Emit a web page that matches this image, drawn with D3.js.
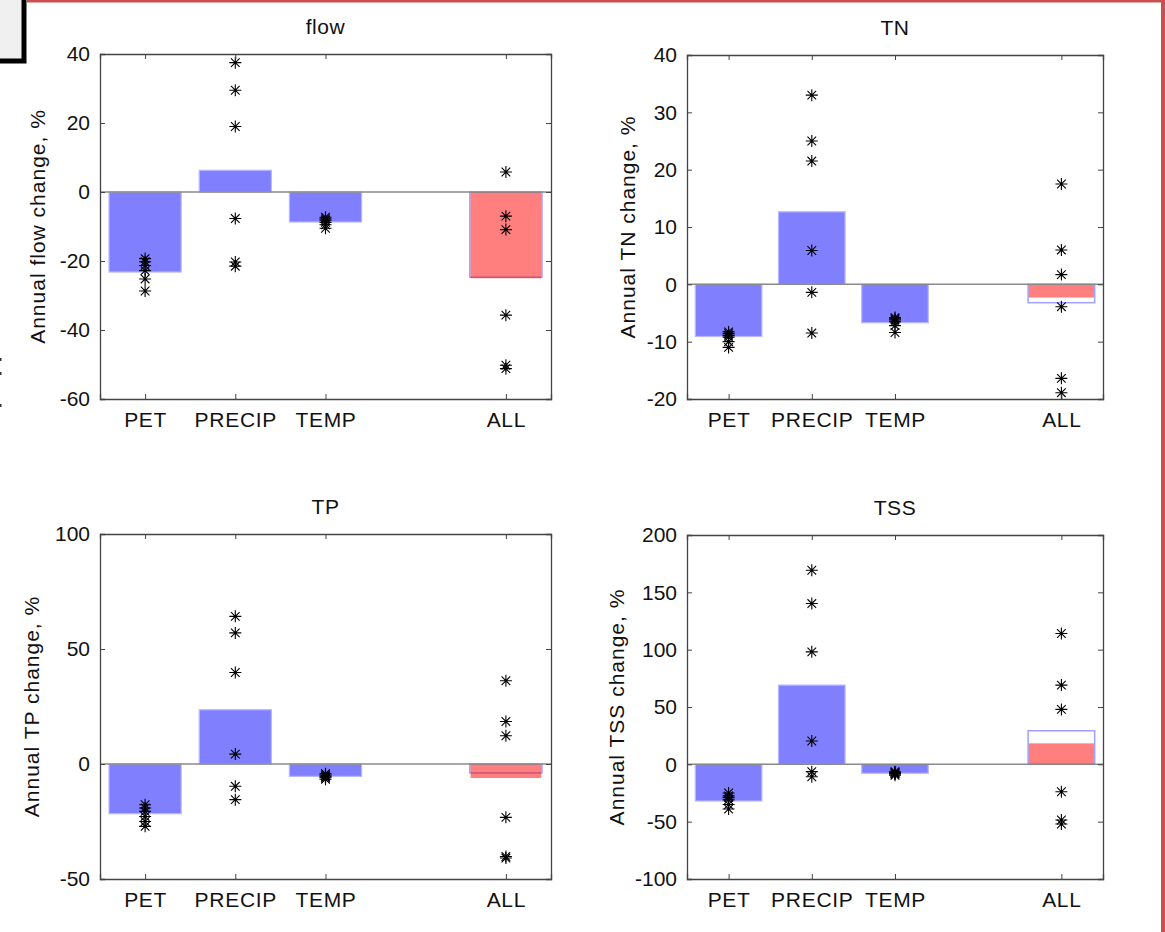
<!DOCTYPE html>
<html lang="en">
<head>
    <meta charset="UTF-8">
    <title>Annual change by driver</title>
    <style>
        body {
            margin: 0;
            padding: 0;
            background: #fff;
        }
        #chart text {
            font-family: "Liberation Sans", Arial, Helvetica, sans-serif;
            fill: #111;
        }
    </style>
</head>
<body>
    <div id="chart"></div>

    <script src="https://d3js.org/d3.v7.min.js"></script>
    <script>
        // categorie (pozicije kao u matlabu: 1,2,3 i 5)
        const categories = ["PET", "PRECIP", "TEMP", "ALL"];
        const catPos = [1, 2, 3, 5];

        const panelNames = ["flow", "TN", "TP", "TSS"];
        const yLabels = ["Annual flow change, %", "Annual TN change, %", "Annual TP change, %", "Annual TSS change, %"];
        const yDomains = [[-60, 40], [-20, 40], [-50, 100], [-100, 200]];
        const yTicks = [
            [-60, -40, -20, 0, 20, 40],
            [-20, -10, 0, 10, 20, 30, 40],
            [-50, 0, 50, 100],
            [-100, -50, 0, 50, 100, 150, 200]
        ];

        // srednje vrijednosti PET, PRECIP, TEMP (plavi stupci)
        const flowBars = [-23.2, 6.3, -8.7];
        const tnBars = [-9.1, 12.65, -6.7];
        const tpBars = [-21.6, 23.6, -5.4];
        const tssBars = [-32.0, 69.1, -7.8];

        // ALL: crveni stupac (srednja vrijednost) i obrub (zbroj pojedinacnih)
        const allMean = [-25.0, -2.3, -6.1, 18.3];
        const allSum = [-24.7, -3.2, -3.9, 29.3];

        // scenariji (zvjezdice), po kategoriji
        const flowStars = [
            [-19.3, -20.2, -21.3, -22.8, -25.2, -28.7],
            [37.5, 29.5, 19.0, -7.7, -20.3, -21.5],
            [-7.3, -7.8, -8.2, -8.8, -9.5, -10.5],
            [5.8, -7.0, -10.9, -35.7, -50.2, -51.2]
        ];
        const tnStars = [
            [-8.3, -8.6, -8.9, -9.2, -10.0, -11.0],
            [33.0, 25.0, 21.5, 5.9, -1.4, -8.5],
            [-5.8, -6.0, -6.2, -6.5, -7.2, -8.4],
            [17.5, 6.0, 1.7, -3.9, -16.4, -18.9]
        ];
        const tpStars = [
            [-17.7, -19.1, -20.6, -22.8, -25.0, -27.1],
            [64.2, 57.0, 39.8, 4.3, -9.7, -15.5],
            [-4.2, -4.8, -5.2, -5.6, -6.0, -6.6],
            [36.2, 18.5, 12.3, -23.2, -40.2, -40.9]
        ];
        const tssStars = [
            [-25, -27.5, -29, -31, -35, -39],
            [169.3, 140.2, 98.1, 20.3, -6.4, -10.8],
            [-6.5, -7, -7.5, -8, -8.5, -9.5],
            [114.1, 69.1, 47.9, -23.9, -48.5, -52.0]
        ];

        const barSets = [flowBars, tnBars, tpBars, tssBars];
        const starSets = [flowStars, tnStars, tpStars, tssStars];

        const W = 1165, H = 932;

        // polozaj osi za svaki panel
        const boxes = [
            { x0: 100, x1: 551, y0: 54, y1: 399, labX: 38 },
            { x0: 687, x1: 1103, y0: 55, y1: 399, labX: 628 },
            { x0: 100, x1: 551, y0: 534, y1: 879, labX: 32 },
            { x0: 687, x1: 1103, y0: 535, y1: 879, labX: 617 }
        ];

        const svg = d3.select("#chart")
            .append("svg")
            .attr("width", W)
            .attr("height", H);

        // okvir screenshota
        svg.append("rect").attr("x", 27).attr("y", 0).attr("width", W - 27).attr("height", 2.5).attr("fill", "#c8504e");
        svg.append("rect").attr("x", 1161).attr("y", 0).attr("width", 4).attr("height", H).attr("fill", "#c8504e");
        svg.append("rect").attr("x", -5).attr("y", -5).attr("width", 29).attr("height", 66)
            .attr("fill", "#f0f0f0").attr("stroke", "#000").attr("stroke-width", 5);
        [358, 372, 404].forEach(y => {
            svg.append("rect").attr("x", 0).attr("y", y).attr("width", 1.5).attr("height", 3).attr("fill", "#333");
        });

        const star = r => {
            const d = r * 0.72;
            return `M${-r},0H${r}M0,${-r}V${r}M${-d},${-d}L${d},${d}M${-d},${d}L${d},${-d}`;
        };

        boxes.forEach((b, p) => {
            const x = d3.scaleLinear().domain([0.5, 5.5]).range([b.x0, b.x1]);
            const y = d3.scaleLinear().domain(yDomains[p]).range([b.y1, b.y0]);
            const g = svg.append("g");
            const bw = x(1.3) - x(0.5);

            // plavi stupci
            barSets[p].forEach((v, i) => {
                g.append("rect")
                    .attr("x", x(catPos[i]) - bw / 2)
                    .attr("y", y(Math.max(0, v)))
                    .attr("width", bw)
                    .attr("height", Math.abs(y(v) - y(0)))
                    .attr("fill", "#8080ff")
                    .attr("stroke", "#b8b8ff")
                    .attr("stroke-width", 1.2);
            });

            // ALL - obrub pa crveni prozirni stupac
            const xa = x(catPos[3]) - bw / 2;
            g.append("rect")
                .attr("x", xa)
                .attr("y", y(Math.max(0, allSum[p])))
                .attr("width", bw)
                .attr("height", Math.abs(y(allSum[p]) - y(0)))
                .attr("fill", "#fff")
                .attr("stroke", "#a0a0ff")
                .attr("stroke-width", 1.5);
            g.append("rect")
                .attr("x", xa + 0.75)
                .attr("y", y(Math.max(0, allMean[p])))
                .attr("width", bw - 1.5)
                .attr("height", Math.abs(y(allMean[p]) - y(0)))
                .attr("fill", "red")
                .attr("fill-opacity", 0.5);

            // nulta linija
            g.append("line")
                .attr("x1", b.x0).attr("x2", b.x1)
                .attr("y1", y(0)).attr("y2", y(0))
                .attr("stroke", "#8a8a8a")
                .attr("stroke-width", 1.5);

            // zvjezdice
            starSets[p].forEach((vals, i) => {
                g.selectAll(null)
                    .data(vals)
                    .enter().append("path")
                    .attr("transform", d => `translate(${x(catPos[i])},${y(d)})`)
                    .attr("d", star(6))
                    .attr("fill", "none")
                    .attr("stroke", "#000")
                    .attr("stroke-width", 1.1);
            });

            // osi
            const axL = g.append("g").attr("transform", `translate(${b.x0},0)`)
                .call(d3.axisLeft(y).tickValues(yTicks[p]).tickSize(-5).tickPadding(10));
            const axR = g.append("g").attr("transform", `translate(${b.x1},0)`)
                .call(d3.axisRight(y).tickValues(yTicks[p]).tickSize(-5).tickFormat(""));
            const axB = g.append("g").attr("transform", `translate(0,${b.y1})`)
                .call(d3.axisBottom(x).tickValues(catPos).tickSize(-5).tickPadding(13)
                    .tickFormat((d, i) => categories[i]));
            const axT = g.append("g").attr("transform", `translate(0,${b.y0})`)
                .call(d3.axisTop(x).tickValues(catPos).tickSize(-5).tickFormat(""));

            [axL, axR, axB, axT].forEach(a => {
                a.select(".domain").attr("stroke", "#444").attr("stroke-width", 1.3);
                a.selectAll(".tick line").attr("stroke", "#444");
                a.selectAll("text").attr("font-size", 21).attr("fill", "#111");
            });
            axL.selectAll("text").text(d => d < 0 ? "-" + Math.abs(d) : d);
            axB.selectAll("text").attr("letter-spacing", 0.7);

            // naslov i oznaka osi
            svg.append("text")
                .attr("x", (b.x0 + b.x1) / 2)
                .attr("y", b.y0 - 20)
                .attr("text-anchor", "middle")
                .attr("font-size", 21)
                .attr("letter-spacing", 0.6)
                .text(panelNames[p]);

            svg.append("text")
                .attr("transform", `translate(${b.labX},${(b.y0 + b.y1) / 2}) rotate(-90)`)
                .attr("text-anchor", "middle")
                .attr("dy", "0.35em")
                .attr("font-size", 21)
                .attr("letter-spacing", 1)
                .text(yLabels[p]);
        });
    </script>
</body>
</html>
